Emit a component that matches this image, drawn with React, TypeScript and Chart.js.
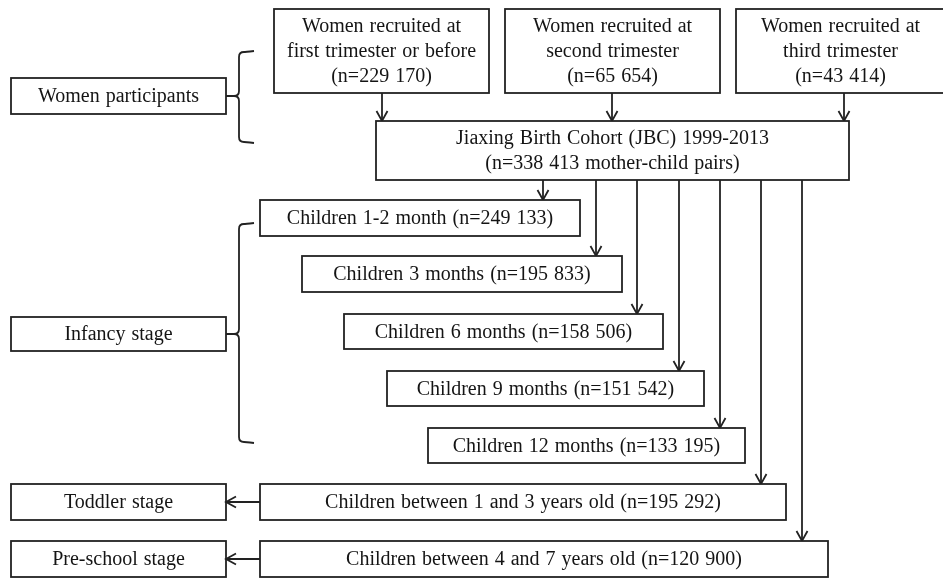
import React, { useEffect, useRef } from "react";
import { Chart, registerables } from "chart.js";

Chart.register(...registerables);

// ---- content ----
const recruitLabels = [
  ["Women recruited at", "first trimester or before"],
  ["Women recruited at", "second trimester"],
  ["Women recruited at", "third trimester"],
];
const recruitCounts = ["229 170", "65 654", "43 414"];
const cohortTitle = "Jiaxing Birth Cohort (JBC) 1999-2013";
const cohortCount = "338 413";
const followupLabels = [
  "Children 1-2 month",
  "Children 3 months",
  "Children 6 months",
  "Children 9 months",
  "Children 12 months",
  "Children between 1 and 3 years old",
  "Children between 4 and 7 years old",
];
const followupCounts = ["249 133", "195 833", "158 506", "151 542", "133 195", "195 292", "120 900"];
const stageLabels = ["Women participants", "Infancy stage", "Toddler stage", "Pre-school stage"];

// ---- layout (diagram coordinates) ----
type Box = { x0: number; x1: number; y0: number; y1: number };
const recruitBoxes: Box[] = [
  { x0: 274, x1: 489, y0: 9, y1: 93 },
  { x0: 505, x1: 720, y0: 9, y1: 93 },
  { x0: 736, x1: 945, y0: 9, y1: 93 },
];
const recruitArrowX = [382, 612, 844];
const cohortBox: Box = { x0: 376, x1: 849, y0: 121, y1: 180 };
const followupBoxes: Box[] = [
  { x0: 260, x1: 580, y0: 200, y1: 236 },
  { x0: 302, x1: 622, y0: 256, y1: 292 },
  { x0: 344, x1: 663, y0: 314, y1: 349 },
  { x0: 387, x1: 704, y0: 371, y1: 406 },
  { x0: 428, x1: 745, y0: 428, y1: 463 },
  { x0: 260, x1: 786, y0: 484, y1: 520 },
  { x0: 260, x1: 828, y0: 541, y1: 577 },
];
const followupArrowX = [543, 596, 637, 679, 720, 761, 802];
const stageBoxes: Box[] = [
  { x0: 11, x1: 226, y0: 78, y1: 114 },
  { x0: 11, x1: 226, y0: 317, y1: 351 },
  { x0: 11, x1: 226, y0: 484, y1: 520 },
  { x0: 11, x1: 226, y0: 541, y1: 577 },
];
const braces = [
  { x: 239, tipX: 226, endX: 254, top: 52, mid: 96, bottom: 142 },
  { x: 239, tipX: 226, endX: 254, top: 224, mid: 334, bottom: 442 },
];
const stageArrowFrom = [5, 6]; // follow-up index -> stage 2,3

const FONT = "20px 'Liberation Serif', 'Times New Roman', serif";
const INK = "#222222";

const flowPlugin = {
  id: "flow",
  afterDraw(chart: any) {
    const { ctx } = chart;
    const xs = chart.scales.x;
    const ys = chart.scales.y;
    const X = (v: number) => xs.getPixelForValue(v);
    const Y = (v: number) => ys.getPixelForValue(v);
    ctx.save();
    ctx.strokeStyle = INK;
    ctx.fillStyle = "#111";
    ctx.lineWidth = 1.8;
    ctx.font = FONT;
    try { (ctx as any).wordSpacing = "1px"; } catch (e) {}
    ctx.textAlign = "center";
    ctx.textBaseline = "middle";

    const box = (b: Box, lines: string[]) => {
      const x0 = X(b.x0), x1 = X(b.x1), y0 = Y(b.y0), y1 = Y(b.y1);
      ctx.fillStyle = "#ffffff";
      ctx.fillRect(x0, y0, x1 - x0, y1 - y0);
      ctx.strokeRect(x0, y0, x1 - x0, y1 - y0);
      ctx.fillStyle = "#141414";
      const cx = (x0 + x1) / 2;
      const cy = (y0 + y1) / 2 + 1;
      const lh = 25;
      lines.forEach((t, i) => {
        ctx.fillText(t, cx, cy + (i - (lines.length - 1) / 2) * lh);
      });
    };
    const head = (x: number, y: number, dir: "down" | "left") => {
      ctx.beginPath();
      if (dir === "down") {
        ctx.moveTo(x - 5.5, y - 10);
        ctx.lineTo(x, y);
        ctx.lineTo(x + 5.5, y - 10);
      } else {
        ctx.moveTo(x + 10, y - 5.5);
        ctx.lineTo(x, y);
        ctx.lineTo(x + 10, y + 5.5);
      }
      ctx.stroke();
    };
    const vArrow = (x: number, yA: number, yB: number) => {
      ctx.beginPath();
      ctx.moveTo(X(x), Y(yA));
      ctx.lineTo(X(x), Y(yB));
      ctx.stroke();
      head(X(x), Y(yB), "down");
    };

    // recruitment boxes
    recruitBoxes.forEach((b, i) => {
      box(b, [...recruitLabels[i], `(n=${recruitCounts[i]})`]);
      vArrow(recruitArrowX[i], b.y1, cohortBox.y0);
    });
    box(cohortBox, [cohortTitle, `(n=${cohortCount} mother-child pairs)`]);

    // follow-up arrows
    followupBoxes.forEach((b, i) => {
      vArrow(followupArrowX[i], cohortBox.y1, b.y0);
    });
    followupBoxes.forEach((b, i) => {
      box(b, [`${followupLabels[i]} (n=${followupCounts[i]})`]);
    });

    // stage boxes
    stageBoxes.forEach((b, i) => box(b, [stageLabels[i]]));

    // left arrows to toddler / pre-school
    stageArrowFrom.forEach((fi, k) => {
      const fb = followupBoxes[fi];
      const sb = stageBoxes[k + 2];
      const y = Y((fb.y0 + fb.y1) / 2);
      ctx.beginPath();
      ctx.moveTo(X(fb.x0), y);
      ctx.lineTo(X(sb.x1), y);
      ctx.stroke();
      head(X(sb.x1), y, "left");
    });

    // braces
    braces.forEach((br) => {
      const x = X(br.x), r = 5;
      const top = Y(br.top), mid = Y(br.mid), bot = Y(br.bottom);
      ctx.beginPath();
      ctx.moveTo(X(br.endX), top - 1);
      ctx.quadraticCurveTo(x + 6, top, x + r, top);
      ctx.quadraticCurveTo(x, top, x, top + r);
      ctx.lineTo(x, mid - r);
      ctx.quadraticCurveTo(x, mid, x - r, mid);
      ctx.lineTo(X(br.tipX), mid);
      ctx.moveTo(x - r, mid);
      ctx.quadraticCurveTo(x, mid, x, mid + r);
      ctx.lineTo(x, bot - r);
      ctx.quadraticCurveTo(x, bot, x + r, bot);
      ctx.quadraticCurveTo(x + 6, bot, X(br.endX), bot + 1);
      ctx.stroke();
    });
    ctx.restore();
  },
};

export default function App() {
  const ref = useRef<HTMLCanvasElement | null>(null);
  useEffect(() => {
    document.body.style.margin = "0";
    if (!ref.current) return;
    const chart = new Chart(ref.current, {
      type: "scatter",
      data: { datasets: [{ data: [], pointRadius: 0 }] },
      options: {
        animation: false,
        responsive: false,
        devicePixelRatio: 1,
        layout: { padding: 0 },
        plugins: { legend: { display: false }, tooltip: { enabled: false } },
        scales: {
          x: { type: "linear", min: 0, max: 943, display: false },
          y: { type: "linear", min: 0, max: 578, reverse: true, display: false },
        },
      },
      plugins: [flowPlugin],
    });
    return () => chart.destroy();
  }, []);
  return (
    <div style={{ width: 943, height: 578, background: "#fff" }}>
      <canvas ref={ref} width={943} height={578} style={{ display: "block" }} />
    </div>
  );
}
